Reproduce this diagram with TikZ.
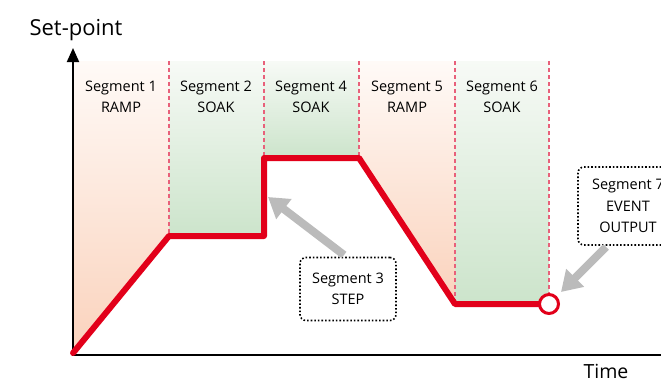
\documentclass[tikz,border=0pt]{standalone}
\usepackage{fontspec}
\setmainfont{Open Sans}
\usetikzlibrary{arrows.meta}
\definecolor{prof}{HTML}{E2001A}
\definecolor{dashred}{HTML}{E8607A}
\definecolor{orbot}{HTML}{FAD2BC}
\definecolor{ortop}{HTML}{FFFAF7}
\definecolor{grbot}{HTML}{CCE4CB}
\definecolor{grtop}{HTML}{F7FAF6}
\definecolor{callgray}{HTML}{BBBBBB}
\tikzset{
  seglabel/.style={align=center, font=\fontsize{14.5}{21}\selectfont, inner sep=0pt},
  axislabel/.style={font=\fontsize{22}{24}\selectfont, inner sep=0pt, anchor=base},
  axisline/.style={line width=2pt, black},
  divider/.style={dashred, dashed, line width=1.2pt, dash pattern=on 4pt off 3pt},
  profile/.style={prof, line width=6pt, line join=round, line cap=round},
  callout/.style={draw, dotted, line width=1.6pt, rounded corners=6pt, align=center,
    font=\fontsize{14.5}{21}\selectfont, inner sep=0pt},
  pointer/.style={callgray, line width=8pt, -{Triangle[width=24pt,length=20pt]}},
  orangeshade/.style={top color=ortop, bottom color=orbot, draw=none},
  greenshade/.style={top color=grtop, bottom color=grbot, draw=none},
}
\begin{document}
\begin{tikzpicture}[x=1pt,y=-1pt]
\useasboundingbox (0,0) rectangle (661,380);
\clip (0,0) rectangle (661,380);
% profile points
\coordinate (o) at (73,353);
\coordinate (p1) at (169,236);
\coordinate (p2) at (264,236);
\coordinate (p3) at (264,158);
\coordinate (p4) at (359,158);
\coordinate (p5) at (455,304);
\coordinate (p6) at (549,304);
% top points of dividers
\coordinate (t0) at (73,61);
\coordinate (t1) at (169,61);
\coordinate (t2) at (264,61);
\coordinate (t4) at (359,61);
\coordinate (t5) at (455,61);
\coordinate (t6) at (549,61);
% shaded columns
\shade[orangeshade] (t0) -- (t1) -- (p1) -- (73,355) -- cycle;
\shade[greenshade] (t1) rectangle (p2);
\shade[greenshade] (t2) rectangle (p4);
\shade[orangeshade] (t4) -- (t5) -- (p5) -- (p4) -- cycle;
\shade[greenshade] (t5) rectangle (p6);
% dividers
\draw[divider] (t1) -- (p1);
\draw[divider] (t2) -- (p3);
\draw[divider] (t4) -- (p4);
\draw[divider] (t5) -- (p5);
\draw[divider] (t6) -- (p6);
% axes
\coordinate (ytop) at (73,48);
\coordinate (xend) at (670,355);
\draw[axisline, -{Triangle[width=12pt,length=14pt]}] (73,355) -- (ytop);
\draw[axisline] (72,355) -- (xend);
\node[axislabel] (ylab) at (76,35) {Set-point};
\node[axislabel, font=\fontsize{19.5}{22}\selectfont] (xlab) at (606,378) {Time};
% segment labels
\node[seglabel] (s1) at (121,97) {Segment 1\\RAMP};
\node[seglabel] (s2) at (216,97) {Segment 2\\SOAK};
\node[seglabel] (s4) at (311,97) {Segment 4\\SOAK};
\node[seglabel] (s5) at (407,97) {Segment 5\\RAMP};
\node[seglabel] (s6) at (502,97) {Segment 6\\SOAK};
% profile
\draw[profile] (o) -- (p1) -- (p2) -- (p3) -- (p4) -- (p5) -- (p6);
\node[circle, draw=prof, fill=white, line width=3pt, minimum size=19pt, inner sep=0pt] (ev) at (p6) {};
% callouts
\node[callout, minimum width=96pt, minimum height=63pt] (c3) at (348,289) {Segment 3\\STEP};
\node[callout, minimum width=100pt, minimum height=78pt, font=\fontsize{14.5}{21.5}\selectfont] (c7) at (628,206) {Segment 7\\EVENT\\OUTPUT};
\coordinate (a3) at (268,197);
\coordinate (a7) at (561,292);
\draw[pointer] (344,255) -- (a3);
\draw[pointer] (606,247) -- (a7);
\end{tikzpicture}
\end{document}
